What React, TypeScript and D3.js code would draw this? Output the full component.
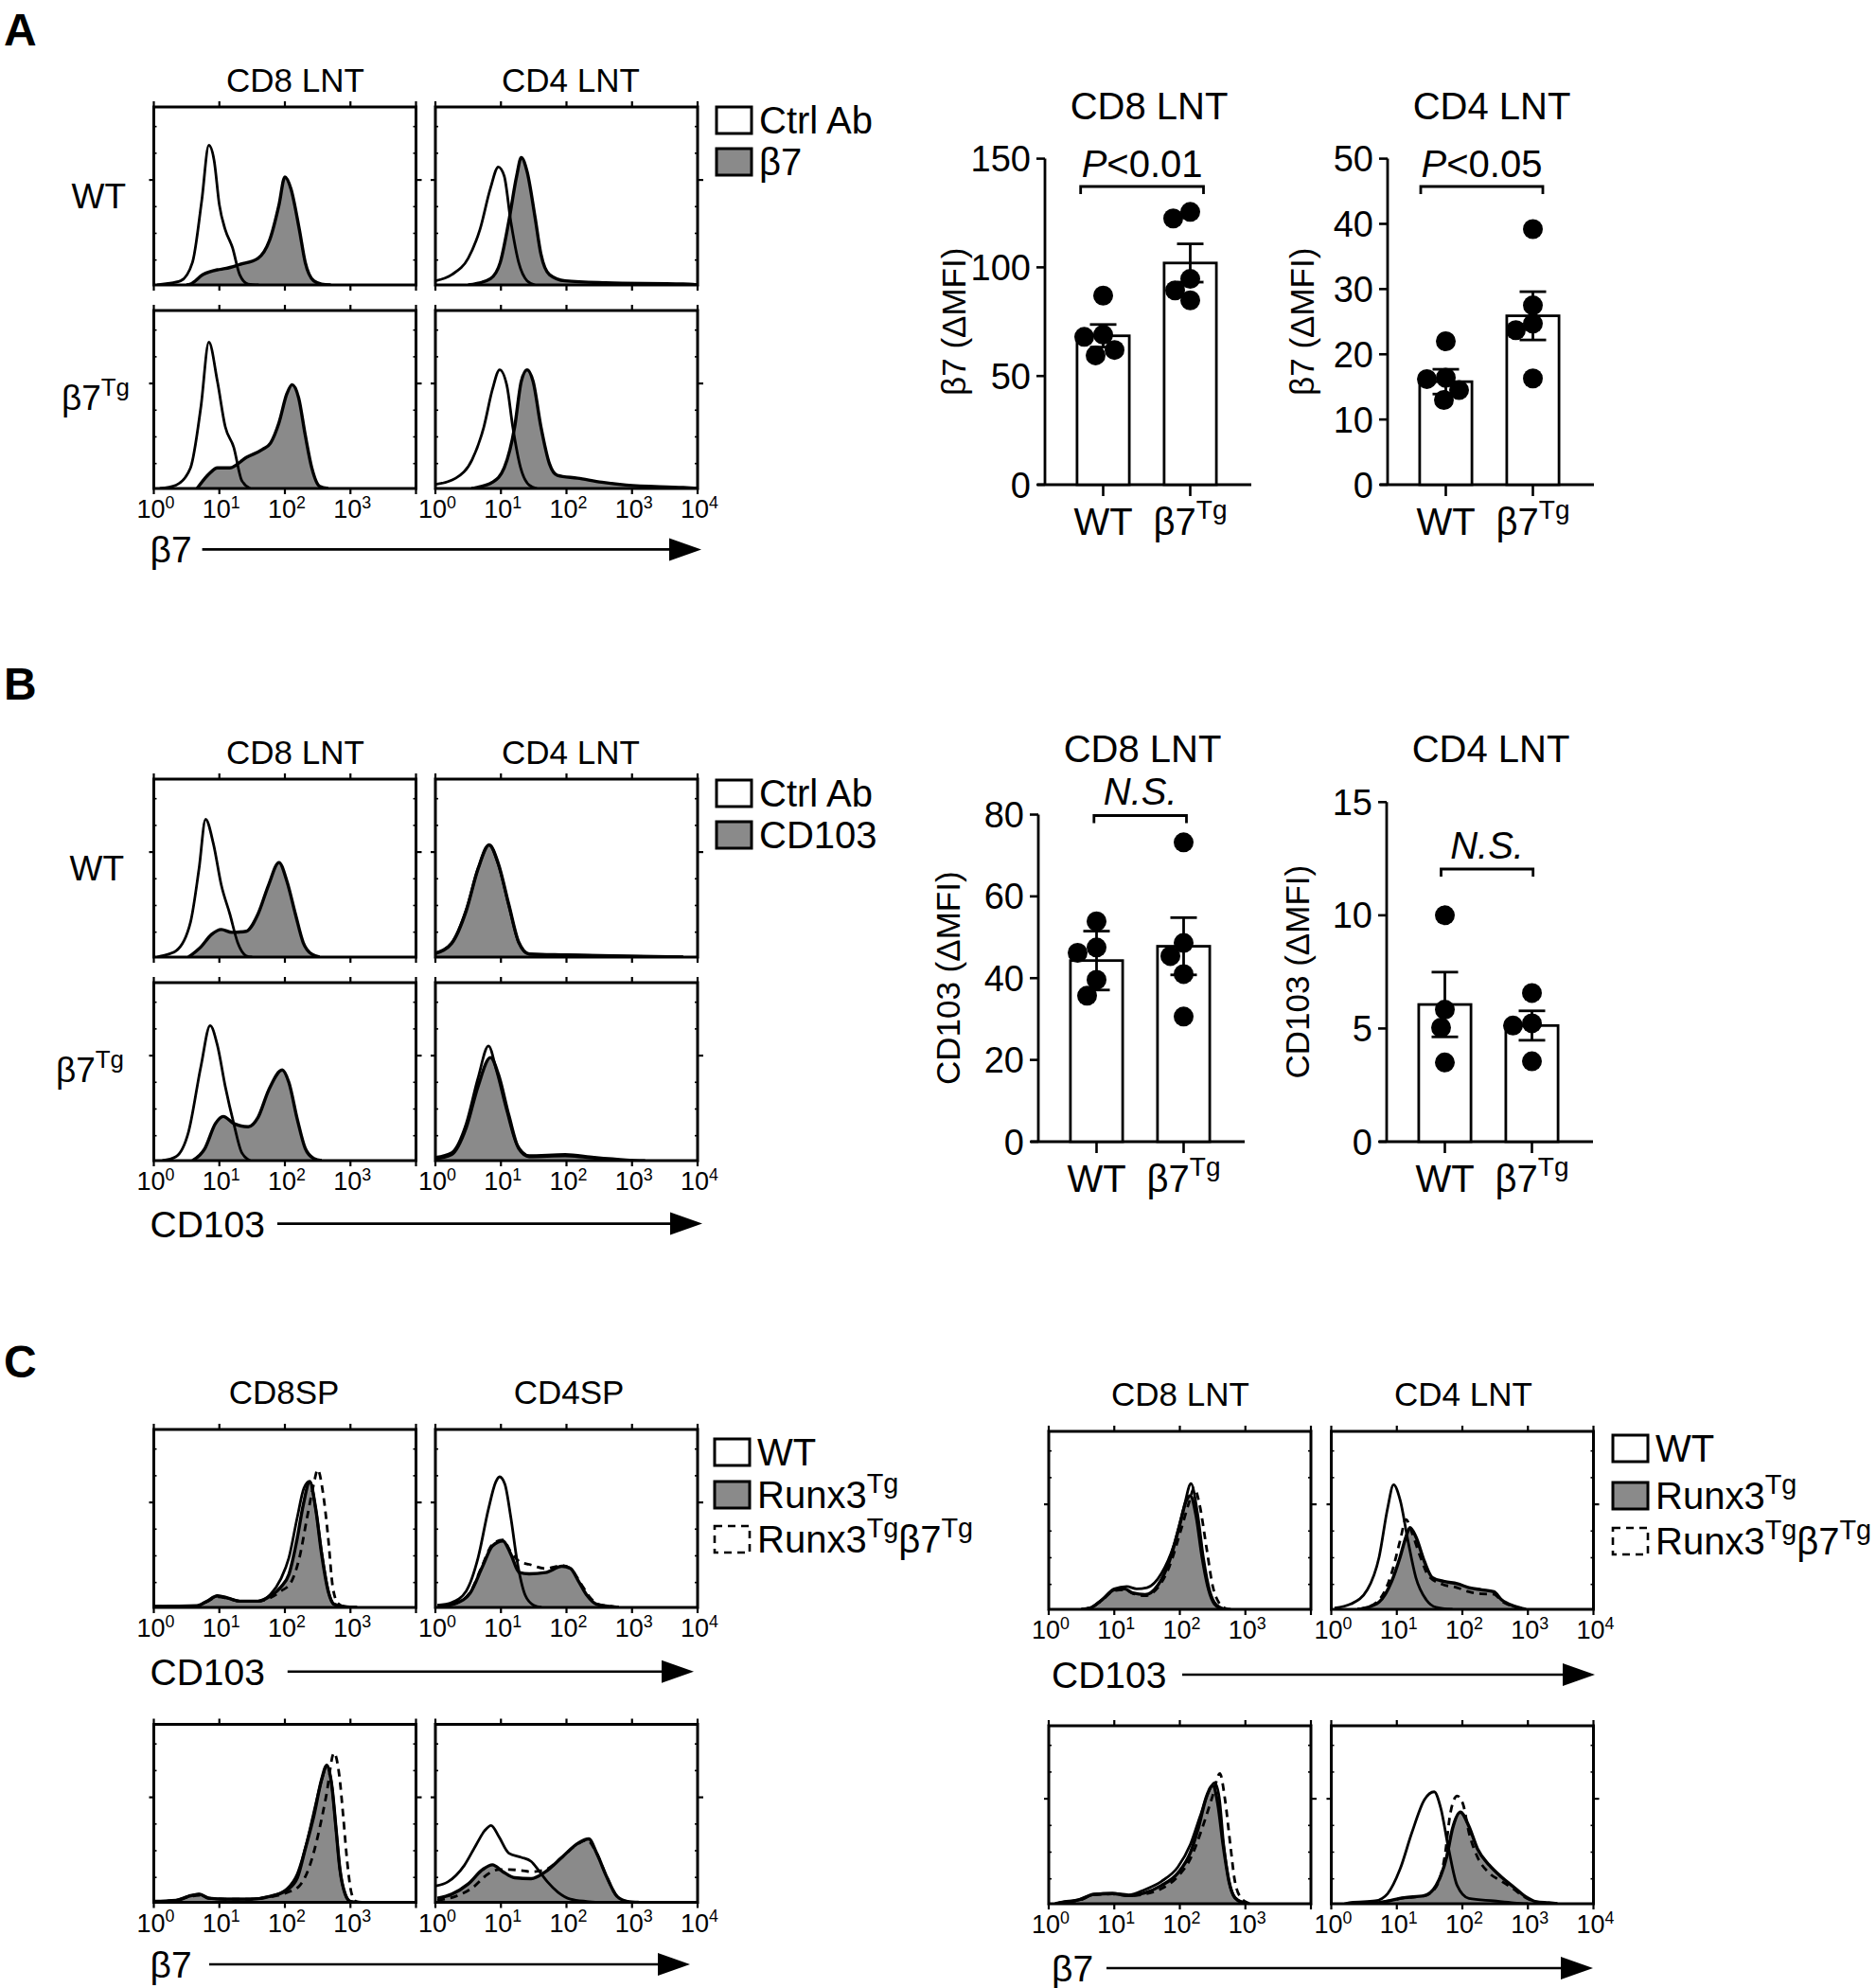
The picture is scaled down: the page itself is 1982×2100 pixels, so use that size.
import React from "react";
import * as d3 from "d3";

type Pt = [number, number];

// ===================== DATA =====================
// Histogram control points: [log10 fluorescence, % of panel height]

// Panel A : beta7 staining (Ctrl Ab open, beta7 filled)
const A_CD8_WT_ctrl: Pt[] = [[0.05,0],[0.19,0.7],[0.41,2.3],[0.59,12.7],[0.73,47],[0.84,78.5],[0.92,70],[1.0,45],[1.09,31],[1.2,21],[1.31,5.8],[1.44,0.5],[1.6,0]];
const A_CD8_WT_b7: Pt[] = [[0.5,0],[0.56,0.5],[0.75,5.8],[0.97,8.5],[1.09,9.2],[1.31,11.5],[1.59,15],[1.78,26.6],[1.91,45],[2.0,60.7],[2.09,54.3],[2.22,31.2],[2.31,12.7],[2.44,2.3],[2.56,0.5],[2.7,0]];
const A_CD4_WT_ctrl: Pt[] = [[0,2.3],[0.25,5.8],[0.5,15],[0.68,31.2],[0.84,54.3],[0.96,66.3],[1.05,61.2],[1.15,35.8],[1.27,12.7],[1.4,2.3],[1.52,0]];
const A_CD4_WT_b7: Pt[] = [[0.5,0],[0.62,0.7],[0.84,3.5],[0.99,12.7],[1.12,35.8],[1.24,61.2],[1.31,71.6],[1.4,63.5],[1.52,38.1],[1.61,17.3],[1.74,5.8],[1.98,2.3],[2.6,1.2],[3.78,0.5],[4,0]];
const A_CD8_TG_ctrl: Pt[] = [[0.09,0],[0.34,1.9],[0.56,11.6],[0.72,46.3],[0.84,82.2],[0.97,60.2],[1.09,34.7],[1.22,23.1],[1.34,4.6],[1.47,0]];
const A_CD8_TG_b7: Pt[] = [[0.66,0],[0.84,8.1],[0.97,11.6],[1.16,11.6],[1.41,17.4],[1.66,22],[1.78,25.5],[1.91,37],[2.03,53.2],[2.11,58.3],[2.21,50.9],[2.31,30.1],[2.41,11.6],[2.53,1.2],[2.66,0]];
const A_CD4_TG_ctrl: Pt[] = [[0,2.3],[0.31,5.8],[0.56,16.2],[0.74,34.7],[0.87,55.6],[0.98,66.7],[1.09,57.9],[1.18,34.7],[1.3,11.6],[1.43,1.9],[1.55,0]];
const A_CD4_TG_b7: Pt[] = [[0.55,0],[0.62,0.5],[0.87,3.5],[1.05,11.6],[1.21,34.7],[1.31,60.2],[1.4,66.7],[1.49,60.2],[1.61,34.7],[1.74,13.9],[1.86,7.4],[2.17,5.8],[2.54,3.5],[2.91,1.9],[3.78,0.5],[4,0]];

// Panel B : CD103 staining (Ctrl Ab open, CD103 filled)
const B_CD8_WT_ctrl: Pt[] = [[0.05,0],[0.13,0.7],[0.34,3.5],[0.56,19.6],[0.69,49.7],[0.79,77.4],[0.91,63.5],[1.03,40.4],[1.16,24.2],[1.28,8.1],[1.41,0.7],[1.5,0]];
const B_CD8_WT_cd103: Pt[] = [[0.53,0],[0.72,5.8],[0.88,12.7],[1.03,15.5],[1.19,13.9],[1.41,14.5],[1.59,24.2],[1.75,40.4],[1.91,53.1],[2.03,42.7],[2.16,24.2],[2.28,8.1],[2.41,1.6],[2.53,0]];
const B_CD4_WT_ctrl: Pt[] = [[0,2.3],[0.25,8.1],[0.47,26.6],[0.65,49.7],[0.82,63],[0.96,52],[1.12,28.9],[1.27,8.1],[1.43,1.6],[1.98,1.2],[2.91,0.5],[3.78,0]];
const B_CD4_WT_cd103: Pt[] = [[0,2.0],[0.25,7.8],[0.47,26],[0.65,49.5],[0.82,63],[0.96,52.5],[1.12,29.5],[1.27,8.5],[1.43,1.8],[1.98,1.2],[2.91,0.5],[3.78,0]];
const B_CD8_TG_ctrl: Pt[] = [[0.13,0],[0.34,2.3],[0.53,16.2],[0.72,53.2],[0.86,75.9],[0.97,64.8],[1.09,41.7],[1.22,20.8],[1.34,4.6],[1.47,0]];
const B_CD8_TG_cd103: Pt[] = [[0.59,0],[0.78,6.9],[0.94,20.8],[1.06,24.8],[1.22,20.8],[1.44,19],[1.59,24.3],[1.75,39.4],[1.96,50.9],[2.06,44],[2.19,23.1],[2.31,6.9],[2.44,1.2],[2.56,0]];
const B_CD4_TG_ctrl: Pt[] = [[0,1.9],[0.25,4.6],[0.47,20.8],[0.65,46.3],[0.81,64.4],[0.93,50.9],[1.09,27.8],[1.24,9.3],[1.43,2.8],[1.98,3.5],[2.42,1.9],[2.91,0.5],[3.2,0]];
const B_CD4_TG_cd103: Pt[] = [[0,1.2],[0.25,3.5],[0.47,18.5],[0.65,41.7],[0.84,57.9],[0.96,48.6],[1.12,25.5],[1.27,6.9],[1.43,2.3],[1.98,2.8],[2.29,1.9],[2.67,0.5],[2.9,0]];

// Panel C : WT (open), Runx3Tg (filled), Runx3Tg b7Tg (dashed)
const C_SP8_CD103_wt: Pt[] = [[0,0.5],[0.66,0.9],[0.81,3.5],[0.97,6.5],[1.13,5.3],[1.31,3.5],[1.59,3.5],[1.78,7.4],[1.94,16.2],[2.06,27.7],[2.19,50.8],[2.29,67],[2.38,70.9],[2.47,55.4],[2.56,31.2],[2.67,8.1],[2.75,1.8],[2.91,0.5],[3.1,0]];
const C_SP8_CD103_runx: Pt[] = [[0,0.5],[0.66,0.9],[0.81,3.5],[0.97,6.5],[1.13,5.3],[1.31,3.5],[1.59,3.5],[1.78,6.5],[1.94,11.5],[2.06,18.5],[2.19,39.3],[2.28,57.7],[2.38,70.4],[2.47,55.4],[2.56,30],[2.66,9.2],[2.75,1.8],[2.91,0.5],[3.1,0]];
const C_SP8_CD103_dbl: Pt[] = [[0,0.5],[0.66,0.9],[0.81,3.2],[0.97,6],[1.13,5],[1.31,3.5],[1.59,3.5],[1.78,5.5],[1.94,9.2],[2.09,13.9],[2.22,27.7],[2.34,50.8],[2.44,69.3],[2.5,77.4],[2.58,64.7],[2.66,39.3],[2.73,11.5],[2.81,2.3],[2.91,0.5],[3.1,0]];
const C_SP4_CD103_wt: Pt[] = [[0.03,1.2],[0.25,2.8],[0.47,9.2],[0.65,27.7],[0.81,55.4],[0.92,70.4],[0.98,73.4],[1.06,69.3],[1.15,50.8],[1.25,25.4],[1.37,6.9],[1.5,1.2],[1.62,0]];
const C_SP4_CD103_runx: Pt[] = [[0.06,0.5],[0.31,2.3],[0.53,8.1],[0.72,23.1],[0.87,34.6],[1.03,37.4],[1.15,30],[1.28,19.6],[1.43,18.9],[1.68,19.6],[1.93,23.1],[2.06,21.9],[2.18,15],[2.31,6.9],[2.46,1.8],[2.68,0.5],[2.8,0]];
const C_SP4_CD103_dbl: Pt[] = [[0.06,0.5],[0.31,2.3],[0.53,8.5],[0.72,24],[0.87,35.5],[1.03,38],[1.15,31.2],[1.28,25.9],[1.43,24.2],[1.68,21.9],[1.93,23.6],[2.06,21.9],[2.21,14],[2.34,6.5],[2.5,1.6],[2.7,0.5],[2.8,0]];
const C_SP8_B7_wt: Pt[] = [[0,0.5],[0.34,1.1],[0.53,3.4],[0.69,4.6],[0.84,2.3],[1.09,1.8],[1.47,1.8],[1.78,3.4],[2.03,7.6],[2.19,16.1],[2.34,34.5],[2.47,55.2],[2.58,71.3],[2.64,77],[2.72,64.4],[2.78,41.4],[2.84,18.4],[2.92,4.6],[3.0,0.5],[3.1,0]];
const C_SP8_B7_runx: Pt[] = [[0,0.5],[0.34,1.1],[0.53,3.4],[0.69,4.6],[0.84,2.3],[1.09,1.8],[1.47,1.8],[1.78,3.4],[2.03,6.9],[2.19,13.8],[2.31,29.9],[2.44,48.3],[2.56,69],[2.64,77],[2.72,64.4],[2.78,41.4],[2.84,18.4],[2.92,4.6],[3.0,0.5],[3.1,0]];
const C_SP8_B7_dbl: Pt[] = [[0,0.5],[0.34,1],[0.53,3],[0.69,4],[0.84,2.3],[1.09,1.8],[1.47,1.8],[1.78,3],[2.03,5.5],[2.22,9.2],[2.38,20.7],[2.5,36.8],[2.63,59.8],[2.75,83.9],[2.83,71.3],[2.89,48.3],[2.95,23],[3.02,4.6],[3.09,0.5],[3.2,0]];
const C_SP4_B7_wt: Pt[] = [[0.01,9.2],[0.19,11.5],[0.44,20.7],[0.62,32.2],[0.75,40.2],[0.85,43.2],[0.97,36.8],[1.12,27.6],[1.31,25.3],[1.46,23],[1.59,17.2],[1.71,11.5],[1.87,5.7],[2.06,1.8],[2.31,0.5],[2.5,0]];
const C_SP4_B7_runx: Pt[] = [[0.03,2.3],[0.25,4.6],[0.5,10.3],[0.72,18.4],[0.87,21.1],[1.03,17.2],[1.21,13.8],[1.46,13.3],[1.68,17.2],[1.93,25.3],[2.18,33.3],[2.34,35.6],[2.46,27.6],[2.62,13.8],[2.77,3.4],[2.93,0.5],[3.1,0]];
const C_SP4_B7_dbl: Pt[] = [[0.03,1.1],[0.31,3.4],[0.56,8],[0.81,16.1],[0.97,18.4],[1.12,18.4],[1.31,17.9],[1.46,17.2],[1.68,18.4],[1.93,25.3],[2.15,32.2],[2.31,34.9],[2.46,27.6],[2.62,13.8],[2.77,3.4],[2.93,0.5],[3.1,0]];
const C_LN8_CD103_wt: Pt[] = [[0.5,0],[0.63,0.7],[0.81,5.3],[1.0,11.5],[1.19,12.8],[1.34,11.5],[1.5,12.2],[1.72,20.2],[1.91,36.2],[2.06,56.9],[2.17,70.6],[2.27,54],[2.36,29],[2.46,10],[2.56,2.5],[2.7,0]];
const C_LN8_CD103_runx: Pt[] = [[0.5,0],[0.63,0.7],[0.81,5.3],[1.0,11],[1.16,11.5],[1.28,9.2],[1.47,8.3],[1.66,13.3],[1.84,27],[2.0,47.7],[2.09,60.3],[2.16,63.8],[2.25,52.3],[2.34,29.4],[2.44,11],[2.53,3],[2.66,0]];
const C_LN8_CD103_dbl: Pt[] = [[0.5,0],[0.63,0.7],[0.81,5],[1.0,10.5],[1.16,11],[1.28,9],[1.47,7.6],[1.66,12],[1.84,24],[2.02,45],[2.14,60],[2.22,68.3],[2.3,59],[2.41,33.9],[2.5,13.3],[2.59,4.1],[2.7,0.5],[2.8,0]];
const C_LN4_CD103_wt: Pt[] = [[0.05,0.7],[0.3,3],[0.55,11],[0.73,29.4],[0.86,56.9],[0.95,70],[1.05,61.5],[1.17,38.5],[1.29,17.9],[1.45,5.3],[1.6,1.1],[1.85,0]];
const C_LN4_CD103_runx: Pt[] = [[0.4,0],[0.49,0.5],[0.73,4.1],[0.92,15.6],[1.05,29.4],[1.14,40.8],[1.2,45.9],[1.29,40.8],[1.42,27],[1.54,17.9],[1.73,15.6],[1.92,14.4],[2.1,12.2],[2.29,11],[2.48,9.9],[2.6,5.3],[2.79,1.8],[2.97,0]];
const C_LN4_CD103_dbl: Pt[] = [[0.4,0],[0.5,0.7],[0.73,5.3],[0.92,20.2],[1.05,38.5],[1.14,50.5],[1.23,43.1],[1.36,29.4],[1.48,19],[1.67,14.4],[1.92,12.2],[2.1,9.9],[2.29,8.7],[2.48,8.5],[2.6,4.6],[2.79,1.5],[2.97,0]];
const C_LN8_B7_wt: Pt[] = [[0.1,0],[0.19,0.7],[0.47,2.3],[0.69,5.3],[0.97,5.9],[1.22,5],[1.47,8],[1.72,12.6],[1.97,20.6],[2.16,33.2],[2.31,49.2],[2.44,62.9],[2.53,68],[2.6,60],[2.67,33],[2.75,12.6],[2.84,3.4],[2.97,0.5],[3.05,0]];
const C_LN8_B7_runx: Pt[] = [[0.1,0],[0.19,0.7],[0.47,2.3],[0.69,5.3],[0.97,5.7],[1.22,4.6],[1.47,6.2],[1.72,10.3],[1.97,17.2],[2.16,28.6],[2.28,42.3],[2.41,60.6],[2.5,66.4],[2.58,56],[2.66,33.2],[2.75,12.6],[2.84,3.4],[2.97,0.5],[3.05,0]];
const C_LN8_B7_dbl: Pt[] = [[0.1,0],[0.19,0.6],[0.47,2],[0.69,5],[0.97,5.5],[1.22,4.5],[1.47,5.5],[1.72,8.5],[1.97,15.3],[2.16,25.2],[2.34,42.3],[2.5,60.6],[2.61,73.2],[2.69,58.4],[2.77,33.2],[2.84,12.6],[2.94,3],[3.04,0.5],[3.1,0]];
const C_LN4_B7_wt: Pt[] = [[0.2,0],[0.3,0.7],[0.67,1.6],[0.86,5.7],[1.05,19.5],[1.23,40],[1.42,58.4],[1.57,62.9],[1.67,53.8],[1.79,30.9],[1.92,10.3],[2.1,3],[2.48,1.6],[2.79,0.5],[3,0]];
const C_LN4_B7_runx: Pt[] = [[0.6,0],[0.8,1.1],[1.11,3.4],[1.42,4.6],[1.6,10.3],[1.76,26.3],[1.85,42.3],[1.97,51.5],[2.1,43.5],[2.23,30.9],[2.41,21.7],[2.6,14.9],[2.79,9.2],[2.94,4.6],[3.13,1.1],[3.32,0.5],[3.45,0]];
const C_LN4_B7_dbl: Pt[] = [[0.6,0],[0.8,1],[1.11,3.2],[1.42,4.5],[1.6,9.5],[1.73,26.3],[1.82,51.5],[1.92,60.6],[2.01,56],[2.1,40],[2.23,26.3],[2.41,17.2],[2.6,12.6],[2.79,8],[2.94,3.9],[3.13,1],[3.3,0]];

// Bar charts (delta MFI)
const GROUPS = ["WT", "β7Tg"];
const A_CD8_MEAN = [68.5, 102];
const A_CD8_ERR = [5.2, 8.8];
const A_CD8_WT = [87, 69, 68, 62, 59.5];
const A_CD8_TG = [125.5, 122.5, 94.7, 89.4, 84.8];
const A_CD4_MEAN = [15.8, 25.9];
const A_CD4_ERR = [1.9, 3.7];
const A_CD4_WT = [22, 16.4, 16.2, 14.5, 13];
const A_CD4_TG = [39.2, 27.5, 24.7, 23.7, 16.3];
const B_CD8_MEAN = [44.3, 47.8];
const B_CD8_ERR = [7.2, 7.0];
const B_CD8_WT = [53.9, 47.5, 46.2, 39.6, 35.7];
const B_CD8_TG = [73.2, 48.6, 45.4, 41, 30.6];
const B_CD4_MEAN = [6.06, 5.13];
const B_CD4_ERR = [1.43, 0.65];
const B_CD4_WT = [10, 5.83, 5.04, 3.5];
const B_CD4_TG = [6.57, 5.23, 5.13, 3.55];

const DECADES = [0, 1, 2, 3, 4];

// ===================== RENDERING =====================
const FONT = "'Liberation Sans', Arial, Helvetica, sans-serif";
const GRAY = "#8a8a8a";
const HIST_W = 277;
const HIST_H = 188;

const xH = d3.scaleLinear().domain([0, 4]).range([0, HIST_W]);
const yH = d3.scaleLinear().domain([0, 100]).range([HIST_H, 0]);
const areaGen = d3.area<Pt>().x((d) => xH(d[0])).y0(HIST_H).y1((d) => yH(d[1])).curve(d3.curveMonotoneX);
const lineGen = d3.line<Pt>().x((d) => xH(d[0])).y((d) => yH(d[1])).curve(d3.curveMonotoneX);

type Part = [string, string?];

function Rich({ x, y, parts, size, anchor = "start", supScale = 0.68, shift = 0.4, weight, transform, baseline }: any) {
  let cur = 0;
  const sh = size * shift;
  return (
    <text x={x} y={y} fontSize={size} textAnchor={anchor} fontFamily={FONT} fontWeight={weight} transform={transform} dominantBaseline={baseline}>
      {(parts as Part[]).map(([t, f = ""], i) => {
        const sup = f.includes("s");
        const target = sup ? -sh : 0;
        const dy = target - cur;
        cur = target;
        return (
          <tspan key={i} dy={dy} fontSize={sup ? size * supScale : undefined} fontStyle={f.includes("i") ? "italic" : undefined}>
            {t}
          </tspan>
        );
      })}
    </text>
  );
}

type Series = { d: Pt[]; s: "fill" | "open" | "dash" };

function Hist({ x, y, series, labelMax, id }: { x: number; y: number; series: Series[]; labelMax: number | null; id: string }) {
  const minor = [14, 29, 44, 74, 89];
  return (
    <g transform={`translate(${x},${y})`}>
      <defs>
        <clipPath id={id}>
          <rect x={0} y={0} width={HIST_W} height={HIST_H} />
        </clipPath>
      </defs>
      <g clipPath={`url(#${id})`}>
        {series.map((s, i) =>
          s.s === "fill" ? (
            <g key={i}>
              <path d={areaGen(s.d) || ""} fill={GRAY} />
              <path d={lineGen(s.d) || ""} fill="none" stroke="#000" strokeWidth={3.4} strokeLinejoin="round" />
            </g>
          ) : (
            <path key={i} d={lineGen(s.d) || ""} fill="none" stroke="#000" strokeWidth={2.8} strokeDasharray={s.s === "dash" ? "8,6" : undefined} strokeLinejoin="round" />
          )
        )}
      </g>
      <rect x={0} y={0} width={HIST_W} height={HIST_H} fill="none" stroke="#000" strokeWidth={3} />
      {DECADES.map((k) => (
        <g key={k}>
          <line x1={xH(k)} x2={xH(k)} y1={0} y2={-6} stroke="#000" strokeWidth={2.2} />
          <line x1={xH(k)} x2={xH(k)} y1={HIST_H} y2={HIST_H + 6} stroke="#000" strokeWidth={2.2} />
        </g>
      ))}
      <line x1={-5} x2={0} y1={yH(59)} y2={yH(59)} stroke="#000" strokeWidth={2.2} />
      <line x1={HIST_W} x2={HIST_W + 6} y1={yH(59)} y2={yH(59)} stroke="#000" strokeWidth={2.2} />
      {minor.map((m) => (
        <g key={m}>
          <line x1={0} x2={3} y1={yH(m)} y2={yH(m)} stroke="#000" strokeWidth={1.6} />
          <line x1={HIST_W - 3} x2={HIST_W} y1={yH(m)} y2={yH(m)} stroke="#000" strokeWidth={1.6} />
        </g>
      ))}
      {labelMax !== null &&
        DECADES.filter((k) => k <= labelMax).map((k) => (
          <Rich key={k} x={xH(k) + 2} y={HIST_H + 31} size={27} supScale={0.66} shift={0.38} anchor="middle" parts={[["10"], [String(k), "s"]]} />
        ))}
    </g>
  );
}

function Arrow({ label, x, y, x1, x2 }: { label: Part[]; x: number; y: number; x1: number; x2: number }) {
  return (
    <g>
      <Rich x={x} y={y + 14} size={39} parts={label} />
      <line x1={x1} x2={x2 - 30} y1={y} y2={y} stroke="#000" strokeWidth={2.6} />
      <path d={`M${x2 - 34},${y - 12}L${x2},${y}L${x2 - 34},${y + 12}Z`} fill="#000" />
    </g>
  );
}

type LegendItem = { parts: Part[]; s: "fill" | "open" | "dash" };
function Legend({ x, ys, items }: { x: number; ys: number[]; items: LegendItem[] }) {
  return (
    <g>
      {items.map((it, i) => (
        <g key={i}>
          <rect x={x} y={ys[i]} width={37} height={28} fill={it.s === "fill" ? GRAY : "#fff"} stroke="#000" strokeWidth={it.s === "dash" ? 2.6 : 3} strokeDasharray={it.s === "dash" ? "8,6" : undefined} />
          <Rich x={x + 45} y={ys[i] + 28} size={40} supScale={0.72} shift={0.4} parts={it.parts} />
        </g>
      ))}
    </g>
  );
}

function swarm(values: number[], y: (v: number) => number, r: number) {
  const placed: { x: number; y: number }[] = [];
  return values.map((v) => {
    const py = y(v);
    const cands = [0];
    for (let k = 1; k <= 30; k++) cands.push(-k * 2, k * 2);
    let best = 0;
    for (const dx of cands) {
      if (placed.every((p) => Math.hypot(p.x - dx, p.y - py) >= 2 * r - 2)) {
        best = dx;
        break;
      }
    }
    placed.push({ x: best, y: py });
    return { dx: best, y: py };
  });
}

type BarCfg = {
  x0: number; y0: number; yTop: number; max: number; ticks: number[];
  means: number[]; errs: number[]; dots: number[][];
  title: string; titleY: number; ylabel: string; ylabelDX: number;
  sig: Part[]; sigY: number; brY: number; brL: number; brR: number;
};

function BarChart({ c }: { c: BarCfg }) {
  const AX_W = 218;
  const y = d3.scaleLinear().domain([0, c.max]).range([c.y0, c.yTop]);
  const x = d3.scaleBand().domain(GROUPS).range([c.x0 + 15.5, c.x0 + 199.5]).paddingInner(0.4).paddingOuter(0.2);
  const bw = x.bandwidth();
  const R = 10.5;
  return (
    <g fontFamily={FONT}>
      <text x={c.x0 + 110} y={c.titleY} fontSize={40} textAnchor="middle">{c.title}</text>
      <line x1={c.x0} x2={c.x0} y1={c.yTop} y2={c.y0} stroke="#000" strokeWidth={2.8} />
      <line x1={c.x0 - 8} x2={c.x0 + AX_W} y1={c.y0} y2={c.y0} stroke="#000" strokeWidth={2.8} />
      {c.ticks.map((t) => (
        <g key={t}>
          <line x1={c.x0 - 9} x2={c.x0} y1={y(t)} y2={y(t)} stroke="#000" strokeWidth={2.6} />
          <text x={c.x0 - 15} y={y(t) + 13.5} fontSize={38} textAnchor="end">{t}</text>
        </g>
      ))}
      <text transform={`translate(${c.x0 + c.ylabelDX},${(c.y0 + c.yTop) / 2}) rotate(-90)`} fontSize={35} textAnchor="middle" dominantBaseline="central">{c.ylabel}</text>
      {GROUPS.map((g, i) => {
        const cx = (x(g) as number) + bw / 2;
        const pts = swarm(c.dots[i], y, R);
        return (
          <g key={g}>
            <line x1={cx} x2={cx} y1={c.y0} y2={c.y0 + 12} stroke="#000" strokeWidth={2.6} />
            <rect x={x(g)} y={y(c.means[i])} width={bw} height={c.y0 - y(c.means[i])} fill="#fff" stroke="#000" strokeWidth={2.8} />
            {pts.map((p, j) => (
              <circle key={j} cx={cx + p.dx} cy={p.y} r={R} fill="#000" />
            ))}
            <line x1={cx} x2={cx} y1={y(c.means[i] - c.errs[i])} y2={y(c.means[i] + c.errs[i])} stroke="#000" strokeWidth={2.8} />
            <line x1={cx - 14} x2={cx + 14} y1={y(c.means[i] + c.errs[i])} y2={y(c.means[i] + c.errs[i])} stroke="#000" strokeWidth={2.8} />
            <line x1={cx - 14} x2={cx + 14} y1={y(c.means[i] - c.errs[i])} y2={y(c.means[i] - c.errs[i])} stroke="#000" strokeWidth={2.8} />
            <Rich x={cx} y={c.y0 + 53} size={40} supScale={0.7} shift={0.42} anchor="middle" parts={g === "WT" ? [["WT"]] : [["β7"], ["Tg", "s"]]} />
          </g>
        );
      })}
      <path d={`M${c.x0 + c.brL},${c.brY + 8}V${c.brY}H${c.x0 + c.brR}V${c.brY + 8}`} fill="none" stroke="#000" strokeWidth={2.8} />
      <Rich x={c.x0 + (c.brL + c.brR) / 2} y={c.sigY} size={40} anchor="middle" parts={c.sig} />
    </g>
  );
}

const BAR_CHARTS: BarCfg[] = [
  { x0: 1104, y0: 512, yTop: 167.6, max: 150, ticks: [0, 50, 100, 150], means: A_CD8_MEAN, errs: A_CD8_ERR, dots: [A_CD8_WT, A_CD8_TG], title: "CD8 LNT", titleY: 126, ylabel: "β7 (ΔMFI)", ylabelDX: -97, sig: [["P", "i"], ["<0.01"]], sigY: 187, brY: 197, brL: 37.7, brR: 167.5 },
  { x0: 1466, y0: 512, yTop: 167.6, max: 50, ticks: [0, 10, 20, 30, 40, 50], means: A_CD4_MEAN, errs: A_CD4_ERR, dots: [A_CD4_WT, A_CD4_TG], title: "CD4 LNT", titleY: 126, ylabel: "β7 (ΔMFI)", ylabelDX: -91, sig: [["P", "i"], ["<0.05"]], sigY: 187, brY: 197, brL: 35, brR: 164 },
  { x0: 1097, y0: 1206, yTop: 860.5, max: 80, ticks: [0, 20, 40, 60, 80], means: B_CD8_MEAN, errs: B_CD8_ERR, dots: [B_CD8_WT, B_CD8_TG], title: "CD8 LNT", titleY: 805, ylabel: "CD103 (ΔMFI)", ylabelDX: -95.5, sig: [["N.S.", "i"]], sigY: 850, brY: 861.5, brL: 58.8, brR: 156.5 },
  { x0: 1465, y0: 1206, yTop: 847.3, max: 15, ticks: [0, 5, 10, 15], means: B_CD4_MEAN, errs: B_CD4_ERR, dots: [B_CD4_WT, B_CD4_TG], title: "CD4 LNT", titleY: 805, ylabel: "CD103 (ΔMFI)", ylabelDX: -94.4, sig: [["N.S.", "i"]], sigY: 907, brY: 918, brL: 57.5, brR: 154.7 },
];

type HistCfg = { x: number; y: number; series: Series[]; labelMax: number | null };
const f = (d: Pt[]): Series => ({ d, s: "fill" });
const o = (d: Pt[]): Series => ({ d, s: "open" });
const dsh = (d: Pt[]): Series => ({ d, s: "dash" });

const HISTS: HistCfg[] = [
  { x: 162.5, y: 113, series: [f(A_CD8_WT_b7), o(A_CD8_WT_ctrl)], labelMax: null },
  { x: 460, y: 113, series: [f(A_CD4_WT_b7), o(A_CD4_WT_ctrl)], labelMax: null },
  { x: 162.5, y: 328, series: [f(A_CD8_TG_b7), o(A_CD8_TG_ctrl)], labelMax: 3 },
  { x: 460, y: 328, series: [f(A_CD4_TG_b7), o(A_CD4_TG_ctrl)], labelMax: 4 },
  { x: 162.5, y: 823, series: [f(B_CD8_WT_cd103), o(B_CD8_WT_ctrl)], labelMax: null },
  { x: 460, y: 823, series: [f(B_CD4_WT_cd103), o(B_CD4_WT_ctrl)], labelMax: null },
  { x: 162.5, y: 1038, series: [f(B_CD8_TG_cd103), o(B_CD8_TG_ctrl)], labelMax: 3 },
  { x: 460, y: 1038, series: [f(B_CD4_TG_cd103), o(B_CD4_TG_ctrl)], labelMax: 4 },
  { x: 162.5, y: 1510, series: [f(C_SP8_CD103_runx), o(C_SP8_CD103_wt), dsh(C_SP8_CD103_dbl)], labelMax: 3 },
  { x: 460, y: 1510, series: [f(C_SP4_CD103_runx), o(C_SP4_CD103_wt), dsh(C_SP4_CD103_dbl)], labelMax: 4 },
  { x: 162.5, y: 1821.5, series: [f(C_SP8_B7_runx), o(C_SP8_B7_wt), dsh(C_SP8_B7_dbl)], labelMax: 3 },
  { x: 460, y: 1821.5, series: [f(C_SP4_B7_runx), o(C_SP4_B7_wt), dsh(C_SP4_B7_dbl)], labelMax: 4 },
  { x: 1108, y: 1512, series: [f(C_LN8_CD103_runx), o(C_LN8_CD103_wt), dsh(C_LN8_CD103_dbl)], labelMax: 3 },
  { x: 1406.5, y: 1512, series: [f(C_LN4_CD103_runx), o(C_LN4_CD103_wt), dsh(C_LN4_CD103_dbl)], labelMax: 4 },
  { x: 1108, y: 1823, series: [f(C_LN8_B7_runx), o(C_LN8_B7_wt), dsh(C_LN8_B7_dbl)], labelMax: 3 },
  { x: 1406.5, y: 1823, series: [f(C_LN4_B7_runx), o(C_LN4_B7_wt), dsh(C_LN4_B7_dbl)], labelMax: 4 },
];

const HIST_TITLES: { t: string; x: number; y: number }[] = [
  { t: "CD8 LNT", x: 312, y: 97 },
  { t: "CD4 LNT", x: 603, y: 97 },
  { t: "CD8 LNT", x: 312, y: 807 },
  { t: "CD4 LNT", x: 603, y: 807 },
  { t: "CD8SP", x: 300, y: 1483 },
  { t: "CD4SP", x: 601, y: 1483 },
  { t: "CD8 LNT", x: 1247, y: 1485 },
  { t: "CD4 LNT", x: 1546, y: 1485 },
];

const ROW_LABELS: { parts: Part[]; x: number; y: number }[] = [
  { parts: [["WT"]], x: 133, y: 220 },
  { parts: [["β7"], ["Tg", "s"]], x: 137, y: 433 },
  { parts: [["WT"]], x: 131, y: 930 },
  { parts: [["β7"], ["Tg", "s"]], x: 131, y: 1143 },
];

const ARROWS = [
  { label: [["β7"]] as Part[], x: 158.5, y: 580.4, x1: 213.6, x2: 741 },
  { label: [["CD103"]] as Part[], x: 158.5, y: 1292.6, x1: 293, x2: 742 },
  { label: [["CD103"]] as Part[], x: 158.5, y: 1765.7, x1: 303.8, x2: 733 },
  { label: [["β7"]] as Part[], x: 158.5, y: 2075, x1: 221, x2: 729 },
  { label: [["CD103"]] as Part[], x: 1111, y: 1769, x1: 1249, x2: 1685 },
  { label: [["β7"]] as Part[], x: 1111, y: 2079, x1: 1169, x2: 1683 },
];

const LEG_AB1: LegendItem[] = [
  { parts: [["Ctrl Ab"]], s: "open" },
  { parts: [["β7"]], s: "fill" },
];
const LEG_AB2: LegendItem[] = [
  { parts: [["Ctrl Ab"]], s: "open" },
  { parts: [["CD103"]], s: "fill" },
];
const LEG_C: LegendItem[] = [
  { parts: [["WT"]], s: "open" },
  { parts: [["Runx3"], ["Tg", "s"]], s: "fill" },
  { parts: [["Runx3"], ["Tg", "s"], ["β7"], ["Tg", "s"]], s: "dash" },
];

export default function App() {
  return (
    <svg width={1982} height={2100} viewBox="0 0 1982 2100" style={{ position: "absolute", left: 0, top: 0, background: "#fff" }} fontFamily={FONT}>
      <rect x={0} y={0} width={1982} height={2100} fill="#fff" />
      <text x={4} y={48} fontSize={48} fontWeight="bold">A</text>
      <text x={4} y={739} fontSize={48} fontWeight="bold">B</text>
      <text x={4} y={1455} fontSize={48} fontWeight="bold">C</text>

      {HIST_TITLES.map((t, i) => (
        <text key={i} x={t.x} y={t.y} fontSize={35} textAnchor="middle">{t.t}</text>
      ))}
      {ROW_LABELS.map((r, i) => (
        <Rich key={i} x={r.x} y={r.y} size={37} anchor="end" supScale={0.7} shift={0.4} parts={r.parts} />
      ))}
      {HISTS.map((h, i) => (
        <Hist key={i} id={`clip${i}`} x={h.x} y={h.y} series={h.series} labelMax={h.labelMax} />
      ))}
      {ARROWS.map((a, i) => (
        <Arrow key={i} {...a} />
      ))}
      <Legend x={757} ys={[113, 157]} items={LEG_AB1} />
      <Legend x={757} ys={[824, 868]} items={LEG_AB2} />
      <Legend x={755} ys={[1520, 1565, 1612]} items={LEG_C} />
      <Legend x={1704} ys={[1516, 1566, 1614]} items={LEG_C} />

      {BAR_CHARTS.map((c, i) => (
        <BarChart key={i} c={c} />
      ))}
    </svg>
  );
}
